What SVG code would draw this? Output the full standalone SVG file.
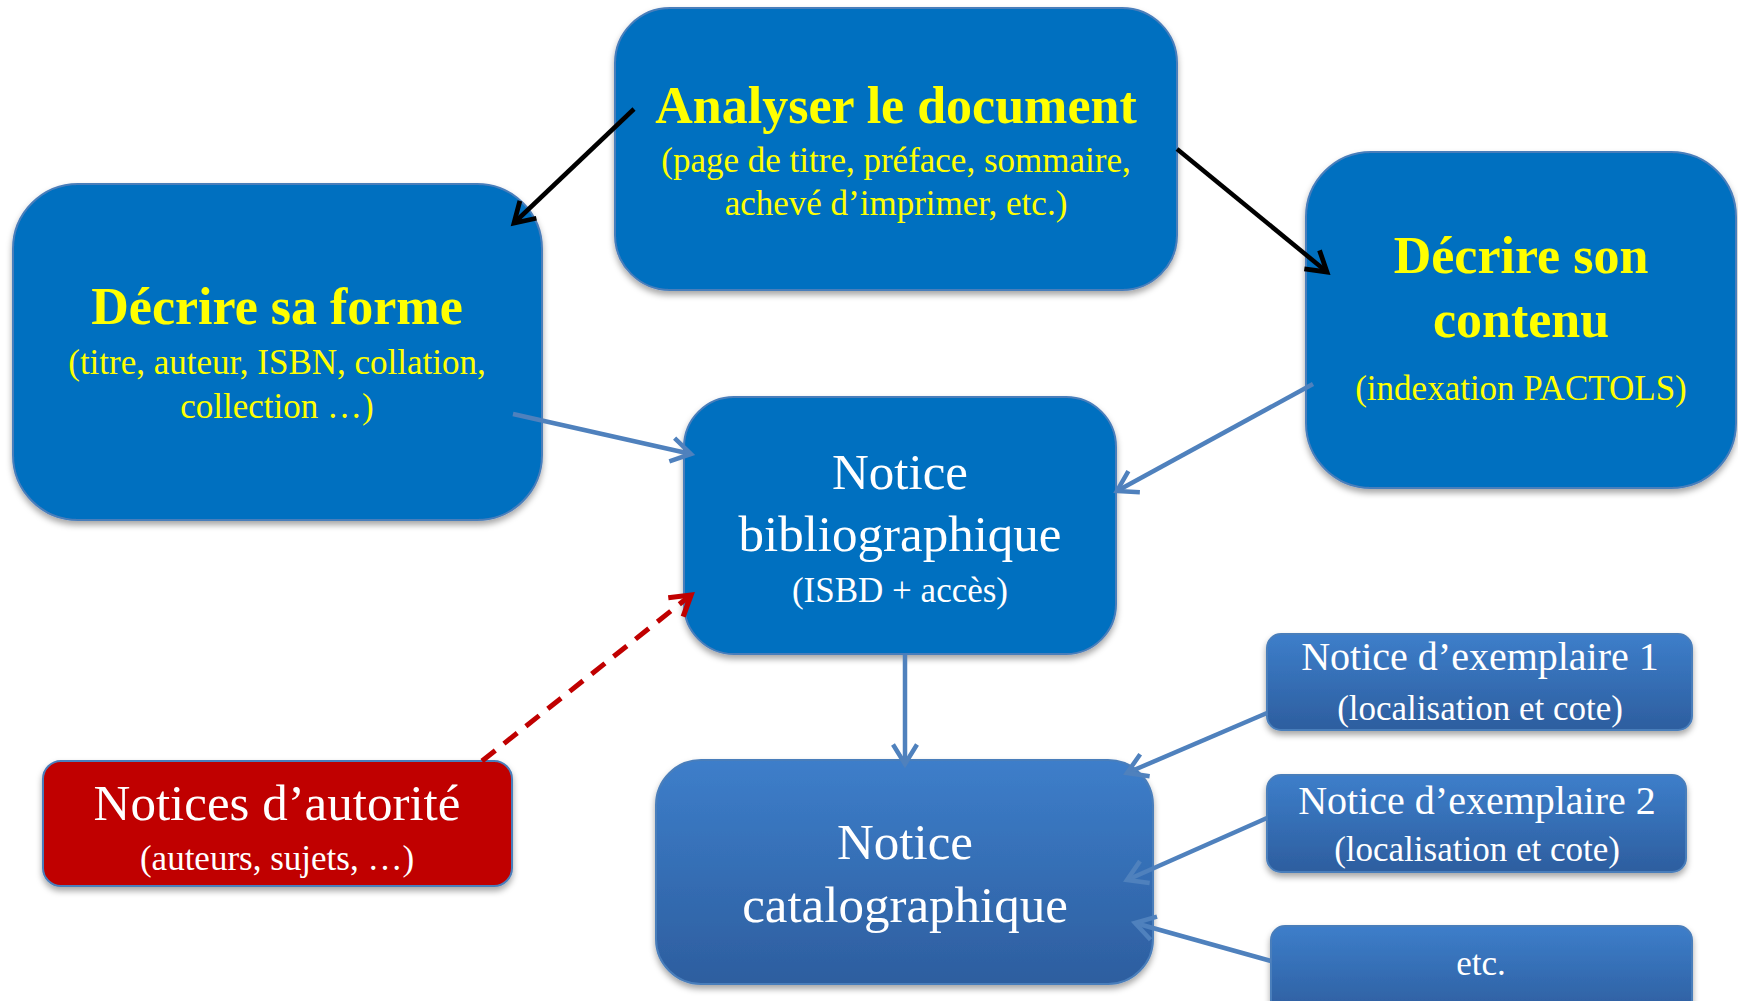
<svg xmlns="http://www.w3.org/2000/svg" width="1738" height="1001" viewBox="0 0 1738 1001">
<style>
.box{fill:#0070C0;stroke:#4A7EBB;stroke-width:2;filter:url(#sh)}
.gbox{fill:url(#gb);stroke:#4A7EBB;stroke-width:2;filter:url(#sh)}
.red{fill:#C00000;stroke:#4A7EBB;stroke-width:2;filter:url(#sh)}
text{font-family:"Liberation Serif","Times New Roman",serif;text-anchor:middle}
.yt{fill:#FFFF00;font-weight:bold;font-size:52px}
.ys{fill:#FFFF00;font-size:35px}
.wt{fill:#FFFFFF;font-size:51px}
.ws{fill:#FFFFFF;font-size:35px}
.ex{fill:#FFFFFF;font-size:40px}
.blk{stroke:#000;stroke-width:4.5;fill:none;marker-end:url(#ab)}
.blu{stroke:#4F81BD;stroke-width:4.5;fill:none;marker-end:url(#au)}
.rd{stroke:#C00000;stroke-width:5;fill:none;stroke-dasharray:17 11;marker-end:url(#ar)}
</style>
<defs>
<filter id="sh" x="-10%" y="-10%" width="120%" height="130%">
<feDropShadow dx="0" dy="4" stdDeviation="3" flood-color="#000" flood-opacity="0.35"/>
</filter>
<linearGradient id="gb" x1="0" y1="0" x2="0" y2="1">
<stop offset="0" stop-color="#3D7ECA"/>
<stop offset="1" stop-color="#2D5E9F"/>
</linearGradient>
<marker id="ab" viewBox="0 0 20 20" refX="16" refY="10" markerWidth="30" markerHeight="30" markerUnits="userSpaceOnUse" orient="auto">
<path d="M3,2 L16,10 L3,18" fill="none" stroke="#000" stroke-width="3.2"/>
</marker>
<marker id="au" viewBox="0 0 20 20" refX="16" refY="10" markerWidth="30" markerHeight="30" markerUnits="userSpaceOnUse" orient="auto">
<path d="M3,2 L16,10 L3,18" fill="none" stroke="#4F81BD" stroke-width="3"/>
</marker>
<marker id="ar" viewBox="0 0 20 20" refX="16" refY="10" markerWidth="30" markerHeight="30" markerUnits="userSpaceOnUse" orient="auto">
<path d="M3,2 L16,10 L3,18" fill="none" stroke="#C00000" stroke-width="3.5"/>
</marker>
</defs>
<rect width="1738" height="1001" fill="#FFFFFF"/>

<g id="analyser">
<rect class="box" x="615" y="8" width="562" height="282" rx="55"/>
<text class="yt" x="896" y="123">Analyser le document</text>
<text class="ys" x="896" y="172">(page de titre, préface, sommaire,</text>
<text class="ys" x="896" y="215">achevé d’imprimer, etc.)</text>
</g>

<g id="forme">
<rect class="box" x="13" y="184" width="529" height="336" rx="65"/>
<text class="yt" x="277" y="324">Décrire sa forme</text>
<text class="ys" x="277" y="374">(titre, auteur, ISBN, collation,</text>
<text class="ys" x="277" y="418">collection …)</text>
</g>

<g id="contenu">
<rect class="box" x="1306" y="152" width="430" height="336" rx="65"/>
<text class="yt" x="1521" y="273">Décrire son</text>
<text class="yt" x="1521" y="337">contenu</text>
<text class="ys" x="1521" y="400">(indexation PACTOLS)</text>
</g>

<g id="biblio">
<rect class="box" x="684" y="397" width="432" height="257" rx="50"/>
<text class="wt" x="900" y="489">Notice</text>
<text class="wt" x="900" y="551">bibliographique</text>
<text class="ws" x="900" y="602">(ISBD + accès)</text>
</g>

<g id="catalo">
<rect class="gbox" x="656" y="760" width="497" height="224" rx="45"/>
<text class="wt" x="905" y="859">Notice</text>
<text class="wt" x="905" y="922">catalographique</text>
</g>

<g id="autorite">
<rect class="red" x="43" y="761" width="469" height="125" rx="18"/>
<text class="wt" x="277" y="820">Notices d’autorité</text>
<text class="ws" x="277" y="870">(auteurs, sujets, …)</text>
</g>

<g id="ex1">
<rect class="gbox" x="1267" y="634" width="425" height="96" rx="14"/>
<text class="ex" x="1480" y="670">Notice d’exemplaire 1</text>
<text class="ws" x="1480" y="720">(localisation et cote)</text>
</g>

<g id="ex2">
<rect class="gbox" x="1267" y="775" width="419" height="97" rx="14"/>
<text class="ex" x="1477" y="814">Notice d’exemplaire 2</text>
<text class="ws" x="1477" y="861">(localisation et cote)</text>
</g>

<g id="etc">
<rect class="gbox" x="1271" y="926" width="421" height="90" rx="14"/>
<text class="ws" x="1481" y="975">etc.</text>
</g>

<g id="connectors">
<line class="blk" x1="634" y1="109" x2="514" y2="223"/>
<line class="blk" x1="1177" y1="149" x2="1327" y2="272"/>
<line class="blu" x1="513" y1="414" x2="691" y2="454"/>
<line class="blu" x1="1313" y1="384" x2="1117" y2="491"/>
<line class="rd" x1="482" y1="761" x2="691" y2="595"/>
<line class="blu" x1="905" y1="655" x2="905" y2="764"/>
<line class="blu" x1="1267" y1="713" x2="1127" y2="773"/>
<line class="blu" x1="1267" y1="818" x2="1127" y2="880"/>
<line class="blu" x1="1271" y1="961" x2="1135" y2="923"/>
</g>
</svg>
